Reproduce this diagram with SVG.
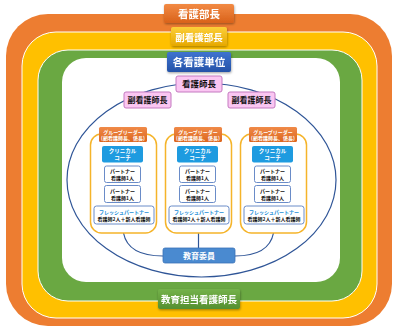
<svg xmlns="http://www.w3.org/2000/svg" width="400" height="332" viewBox="0 0 400 332">
<defs>
<style>
text{font-family:"Noto Sans CJK JP","Noto Sans",sans-serif;font-weight:bold;text-anchor:middle}
.w{fill:#fff}
.k{fill:#111}
.b{fill:#1e8fd8}
.lbl{font-size:10.5px}
.sm{font-size:5px}
.cont{fill:#fff;stroke:#f5b42a;stroke-width:1.5}
.hdr{fill:url(#gOr2)}
.coach{fill:#1e9be0}
.pt{fill:#fff;stroke:#6a8cc8;stroke-width:1}
.conn{fill:none;stroke:#2f5597;stroke-width:1.2}
.pink{fill:#fac6f2;stroke:#c47ac0;stroke-width:1}
</style>
<linearGradient id="gOr" x1="0" y1="0" x2="0" y2="1"><stop offset="0" stop-color="#f28a44"/><stop offset="1" stop-color="#d9621a"/></linearGradient>
<linearGradient id="gOr2" x1="0" y1="0" x2="0" y2="1"><stop offset="0" stop-color="#f08a48"/><stop offset="1" stop-color="#dc661e"/></linearGradient>
<linearGradient id="gYe" x1="0" y1="0" x2="0" y2="1"><stop offset="0" stop-color="#fccf3a"/><stop offset="1" stop-color="#e6a800"/></linearGradient>
<linearGradient id="gBl" x1="0" y1="0" x2="0" y2="1"><stop offset="0" stop-color="#3f74cf"/><stop offset="1" stop-color="#2452a8"/></linearGradient>
<linearGradient id="gGr" x1="0" y1="0" x2="0" y2="1"><stop offset="0" stop-color="#74b24a"/><stop offset="1" stop-color="#558f30"/></linearGradient>
<filter id="sh" x="-10%" y="-20%" width="120%" height="150%"><feDropShadow dx="0.5" dy="1.2" stdDeviation="0.8" flood-color="#000" flood-opacity="0.35"/></filter>
</defs>

<g id="bands">
<rect x="6" y="14" width="386" height="312" rx="42" fill="#ed7d31"/>
<rect x="22" y="32" width="355" height="286" rx="34" fill="#ffc000" stroke="#fff" stroke-width="1"/>
<rect x="38" y="50" width="324" height="251" rx="30" fill="#6aa842" stroke="#fff" stroke-width="1"/>
<rect x="62" y="58" width="278" height="224" rx="24" fill="#fff"/>
</g>

<g id="connectors">
<ellipse cx="201.5" cy="180" rx="134.5" ry="97" class="conn"/>
<path class="conn" d="M123.5,233 Q128,256 163,256"/>
<path class="conn" d="M273.5,233 Q269,256 235,256"/>
<path class="conn" d="M198.5,233 L198.5,248"/>
</g>

<g id="n-kangobucho" filter="url(#sh)">
<rect x="164" y="4" width="70" height="19" rx="2" fill="url(#gOr)"/>
<text x="199" y="17.5" class="w lbl">看護部長</text>
</g>
<g id="n-fukukangobucho" filter="url(#sh)">
<rect x="171" y="27" width="56" height="19" rx="2" fill="url(#gYe)"/>
<text x="199" y="40.5" class="w" font-size="9.5">副看護部長</text>
</g>
<g id="n-kakukangotani" filter="url(#sh)">
<rect x="167" y="52" width="64" height="20" rx="2" fill="url(#gBl)"/>
<text x="199" y="66" class="w lbl">各看護単位</text>
</g>
<g id="n-kangoshicho">
<rect x="176" y="76" width="46" height="16" rx="2" class="pink"/>
<text x="199" y="87.3" class="k" font-size="8.5">看護師長</text>
</g>
<g id="n-fukushicho-l">
<rect x="124" y="92" width="47" height="16" rx="2" class="pink"/>
<text x="147.5" y="103.3" class="k" font-size="8">副看護師長</text>
</g>
<g id="n-fukushicho-r">
<rect x="228" y="92" width="47" height="16" rx="2" class="pink"/>
<text x="251.5" y="103.3" class="k" font-size="8">副看護師長</text>
</g>

<g id="group-l" transform="translate(92,0)">
<rect x="-1.5" y="134" width="66" height="99" rx="11" class="cont"/>
<rect x="7" y="127" width="48" height="15" rx="1.5" class="hdr"/>
<text x="31" y="133.5" class="w sm">グループリーダー</text>
<text x="31" y="140" class="w sm">(副看護師長、係長)</text>
<rect x="10" y="146" width="41" height="16.5" rx="2" class="coach"/>
<text x="30.5" y="153.3" class="w" font-size="5.5">クリニカル</text>
<text x="30.5" y="160.2" class="w" font-size="5.5">コーチ</text>
<rect x="12.5" y="166" width="36" height="16.5" rx="2" class="pt"/>
<text x="30.5" y="173.3" class="k sm">パートナー</text>
<text x="30.5" y="180" class="k sm">看護師1人</text>
<rect x="12.5" y="185.5" width="36" height="17" rx="2" class="pt"/>
<text x="30.5" y="193" class="k sm">パートナー</text>
<text x="30.5" y="199.8" class="k sm">看護師1人</text>
<rect x="2" y="206" width="60" height="18" rx="2.5" class="pt"/>
<text x="32" y="213.5" class="b sm">フレッシュパートナー</text>
<text x="32" y="220.5" class="k sm">看護師2人＋新人看護師</text>
</g>

<g id="group-c" transform="translate(167,0)">
<rect x="-1.5" y="134" width="66" height="99" rx="11" class="cont"/>
<rect x="7" y="127" width="48" height="15" rx="1.5" class="hdr"/>
<text x="31" y="133.5" class="w sm">グループリーダー</text>
<text x="31" y="140" class="w sm">(副看護師長、係長)</text>
<rect x="10" y="146" width="41" height="16.5" rx="2" class="coach"/>
<text x="30.5" y="153.3" class="w" font-size="5.5">クリニカル</text>
<text x="30.5" y="160.2" class="w" font-size="5.5">コーチ</text>
<rect x="12.5" y="166" width="36" height="16.5" rx="2" class="pt"/>
<text x="30.5" y="173.3" class="k sm">パートナー</text>
<text x="30.5" y="180" class="k sm">看護師1人</text>
<rect x="12.5" y="185.5" width="36" height="17" rx="2" class="pt"/>
<text x="30.5" y="193" class="k sm">パートナー</text>
<text x="30.5" y="199.8" class="k sm">看護師1人</text>
<rect x="2" y="206" width="60" height="18" rx="2.5" class="pt"/>
<text x="32" y="213.5" class="b sm">フレッシュパートナー</text>
<text x="32" y="220.5" class="k sm">看護師2人＋新人看護師</text>
</g>

<g id="group-r" transform="translate(242,0)">
<rect x="-1.5" y="134" width="66" height="99" rx="11" class="cont"/>
<rect x="7" y="127" width="48" height="15" rx="1.5" class="hdr"/>
<text x="31" y="133.5" class="w sm">グループリーダー</text>
<text x="31" y="140" class="w sm">(副看護師長、係長)</text>
<rect x="10" y="146" width="41" height="16.5" rx="2" class="coach"/>
<text x="30.5" y="153.3" class="w" font-size="5.5">クリニカル</text>
<text x="30.5" y="160.2" class="w" font-size="5.5">コーチ</text>
<rect x="12.5" y="166" width="36" height="16.5" rx="2" class="pt"/>
<text x="30.5" y="173.3" class="k sm">パートナー</text>
<text x="30.5" y="180" class="k sm">看護師1人</text>
<rect x="12.5" y="185.5" width="36" height="17" rx="2" class="pt"/>
<text x="30.5" y="193" class="k sm">パートナー</text>
<text x="30.5" y="199.8" class="k sm">看護師1人</text>
<rect x="2" y="206" width="60" height="18" rx="2.5" class="pt"/>
<text x="32" y="213.5" class="b sm">フレッシュパートナー</text>
<text x="32" y="220.5" class="k sm">看護師2人＋新人看護師</text>
</g>

<g id="n-kyoikuiin">
<rect x="163" y="248" width="72" height="15" rx="2" fill="#4a8ad0" stroke="#3a72b8" stroke-width="0.8"/>
<text x="199" y="258.8" class="w" font-size="8">教育委員</text>
</g>
<g id="n-kyoikutanto" filter="url(#sh)">
<rect x="158" y="289" width="82" height="20" rx="2" fill="url(#gGr)"/>
<text x="199" y="302.8" class="w" font-size="9.5">教育担当看護師長</text>
</g>
</svg>
